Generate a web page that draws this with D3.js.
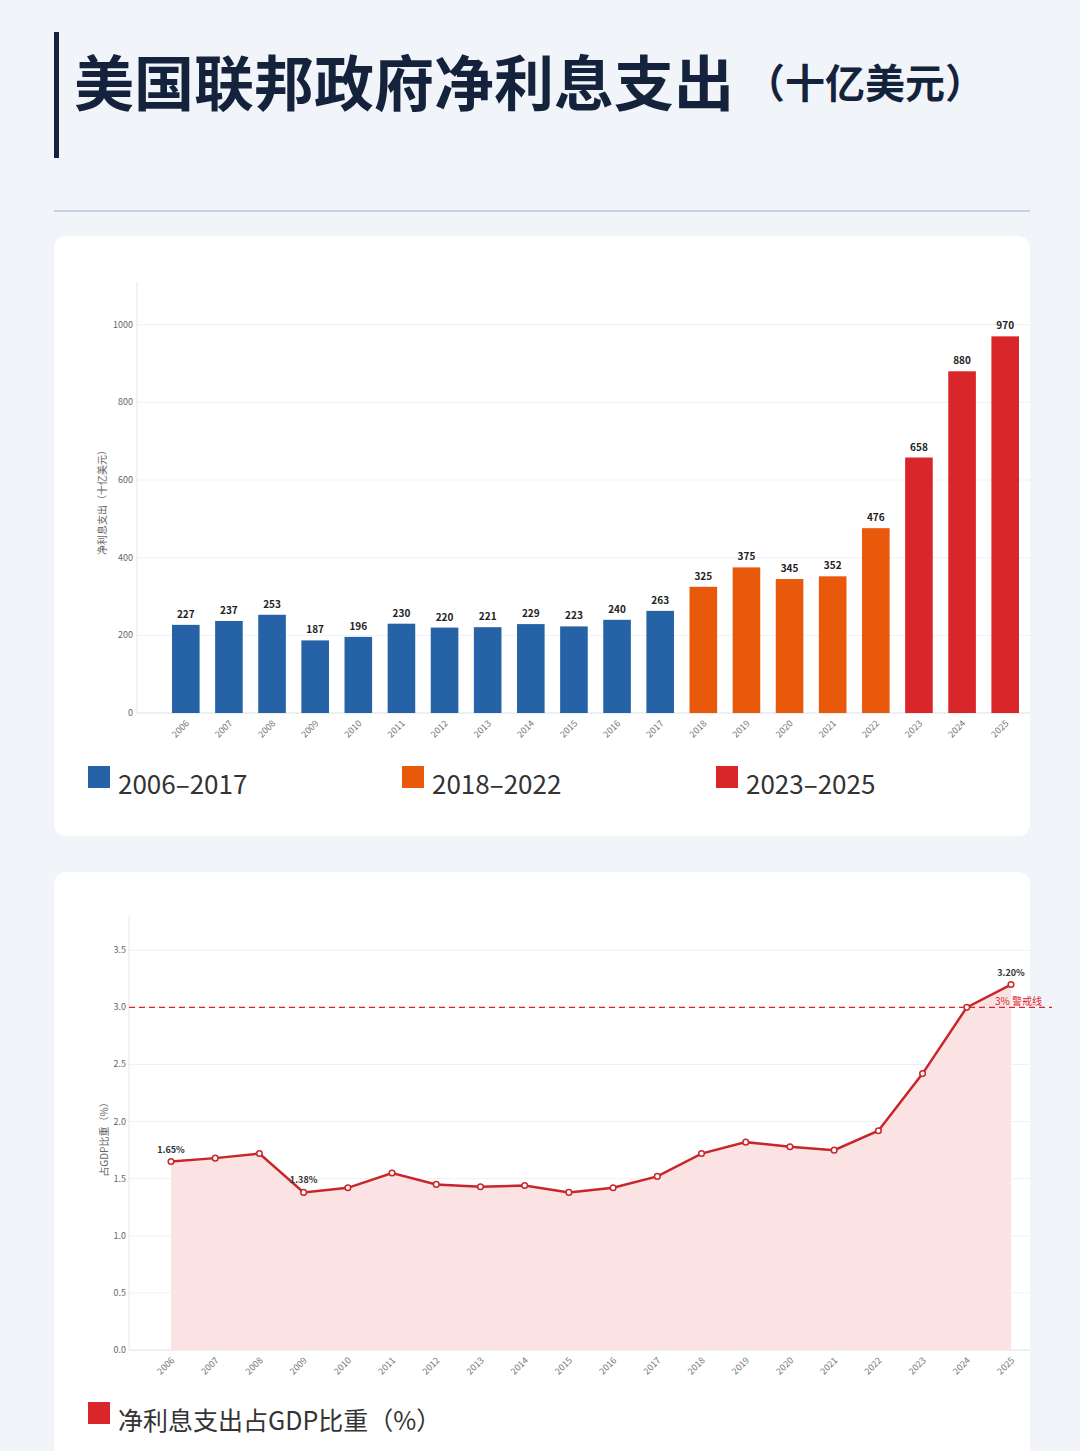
<!DOCTYPE html>
<html><head><meta charset="utf-8">
<script src="https://cdn.jsdelivr.net/npm/d3@7"></script>
<style>
body{margin:0;background:#f1f4f8;font-family:"Noto Sans CJK SC","Noto Sans",sans-serif;}
</style></head><body>
<svg id="c" width="1080" height="1451"></svg>
<script>
const years = d3.range(2006, 2026).map(String);
const interest = [227,237,253,187,196,230,220,221,229,223,240,263,325,375,345,352,476,658,880,970];
const gdpShare = [1.65,1.68,1.72,1.38,1.42,1.55,1.45,1.43,1.44,1.38,1.42,1.52,1.72,1.82,1.78,1.75,1.92,2.42,3.0,3.2];
const periods = ["2006–2017","2018–2022","2023–2025"];
const periodColors = ["#2563a6","#e8590c","#d9262b"];
const barTicks = [0,200,400,600,800,1000];
const lineTicks = [0,0.5,1,1.5,2,2.5,3,3.5];

const svg = d3.select("#c");
const period = y => +y <= 2017 ? 0 : +y <= 2022 ? 1 : 2;

// title
svg.append("rect").attr("x",54).attr("y",32).attr("width",5).attr("height",126).attr("fill","#14233b");
svg.append("text").attr("x",74).attr("y",106).attr("font-size",60).attr("font-weight",700).attr("fill","#14233b").text("美国联邦政府净利息支出");
svg.append("text").attr("x",765).attr("y",98).attr("font-size",40).attr("font-weight",700).attr("fill","#14233b").text("（十亿美元）").attr("dx",-20);
svg.append("line").attr("x1",54).attr("x2",1030).attr("y1",211).attr("y2",211).attr("stroke","#c5d3e3").attr("stroke-width",2);

// cards
[[236,600],[872,600]].forEach(([y,h]) => svg.append("rect").attr("x",54).attr("y",y).attr("width",976).attr("height",h).attr("rx",12).attr("fill","#fff"));

// ---- bar chart
const x = d3.scaleBand().domain(years).range([172,1019]).paddingInner(0.36);
const y = d3.scaleLinear().domain([0,1110]).range([713,282]);
const g1 = svg.append("g");
g1.selectAll(".grid").data(barTicks).join("line").attr("x1",137).attr("x2",1030)
  .attr("y1",d=>y(d)).attr("y2",d=>y(d)).attr("stroke","#eef1f5");
g1.append("line").attr("x1",137).attr("x2",137).attr("y1",282).attr("y2",713).attr("stroke","#e3e7ec");
g1.append("line").attr("x1",137).attr("x2",1030).attr("y1",713).attr("y2",713).attr("stroke","#e3e7ec");
g1.selectAll(".yt").data(barTicks).join("text").attr("x",133).attr("y",d=>y(d)+3)
  .attr("text-anchor","end").attr("font-size",9).attr("fill","#666").text(d=>d);
g1.selectAll(".bar").data(years).join("rect").attr("x",d=>x(d)).attr("width",x.bandwidth())
  .attr("y",(d,i)=>y(interest[i])).attr("height",(d,i)=>713-y(interest[i]))
  .attr("fill",d=>periodColors[period(d)]);
g1.selectAll(".lbl").data(years).join("text").attr("x",d=>x(d)+x.bandwidth()/2)
  .attr("y",(d,i)=>y(interest[i])-7).attr("text-anchor","middle").attr("font-size",10)
  .attr("font-weight",700).attr("fill","#222").text((d,i)=>interest[i]);
g1.selectAll(".xt").data(years).join("text")
  .attr("transform",d=>`translate(${x(d)+x.bandwidth()/2+4},${724}) rotate(-45)`)
  .attr("text-anchor","end").attr("font-size",9).attr("fill","#777").text(d=>d);
g1.append("text").attr("transform","translate(106,500) rotate(-90)").attr("text-anchor","middle")
  .attr("font-size",10).attr("fill","#666").text("净利息支出（十亿美元）");
periods.forEach((p,i)=>{
  const lx = 88 + i*314;
  svg.append("rect").attr("x",lx).attr("y",766).attr("width",22).attr("height",22).attr("fill",periodColors[i]);
  svg.append("text").attr("x",lx+30).attr("y",794).attr("font-size",26).attr("fill","#333").text(p);
});

// ---- line chart
const x2 = d3.scalePoint().domain(years).range([171,1011]);
const y2 = d3.scaleLinear().domain([0,3.8]).range([1350,916]);
const g2 = svg.append("g");
g2.selectAll(".grid").data(lineTicks).join("line").attr("x1",129).attr("x2",1030)
  .attr("y1",d=>y2(d)).attr("y2",d=>y2(d)).attr("stroke","#eef1f5");
g2.append("line").attr("x1",129).attr("x2",129).attr("y1",916).attr("y2",1350).attr("stroke","#e3e7ec");
g2.append("line").attr("x1",129).attr("x2",1030).attr("y1",1350).attr("y2",1350).attr("stroke","#e3e7ec");
g2.selectAll(".yt").data(lineTicks).join("text").attr("x",126).attr("y",d=>y2(d)+3)
  .attr("text-anchor","end").attr("font-size",9).attr("fill","#666").text(d=>d.toFixed(1));
g2.append("path").datum(years).attr("fill","#fbe3e3")
  .attr("d",d3.area().x(d=>x2(d)).y0(y2(0)).y1((d,i)=>y2(gdpShare[i])));
g2.append("line").attr("x1",129).attr("x2",1052).attr("y1",y2(3)).attr("y2",y2(3))
  .attr("stroke","#d9262b").attr("stroke-dasharray","6,4").attr("stroke-width",1.3);
g2.append("text").attr("x",1042).attr("y",y2(3)-2).attr("text-anchor","end").attr("font-size",10)
  .attr("fill","#d9262b").text("3% 警戒线");
g2.append("path").datum(years).attr("fill","none").attr("stroke","#c8262b").attr("stroke-width",2.5)
  .attr("d",d3.line().x(d=>x2(d)).y((d,i)=>y2(gdpShare[i])));
g2.selectAll(".pt").data(years).join("circle").attr("cx",d=>x2(d)).attr("cy",(d,i)=>y2(gdpShare[i]))
  .attr("r",2.8).attr("fill","#fff").attr("stroke","#c8262b").attr("stroke-width",1.5);
[[0,"1.65%"],[3,"1.38%"],[19,"3.20%"]].forEach(([i,t])=>{
  g2.append("text").attr("x",x2(years[i])).attr("y",y2(gdpShare[i])-9).attr("text-anchor","middle")
    .attr("font-size",9).attr("font-weight",700).attr("fill","#333").text(t);
});
g2.selectAll(".xt").data(years).join("text")
  .attr("transform",d=>`translate(${x2(d)+4},${1361}) rotate(-45)`)
  .attr("text-anchor","end").attr("font-size",9).attr("fill","#777").text(d=>d);
g2.append("text").attr("transform","translate(108,1137) rotate(-90)").attr("text-anchor","middle")
  .attr("font-size",10).attr("fill","#666").text("占GDP比重（%）");
svg.append("rect").attr("x",88).attr("y",1402).attr("width",22).attr("height",22).attr("fill","#d9262b");
svg.append("text").attr("x",118).attr("y",1430).attr("font-size",25).attr("fill","#333").text("净利息支出占GDP比重（%）");
</script></body></html>
